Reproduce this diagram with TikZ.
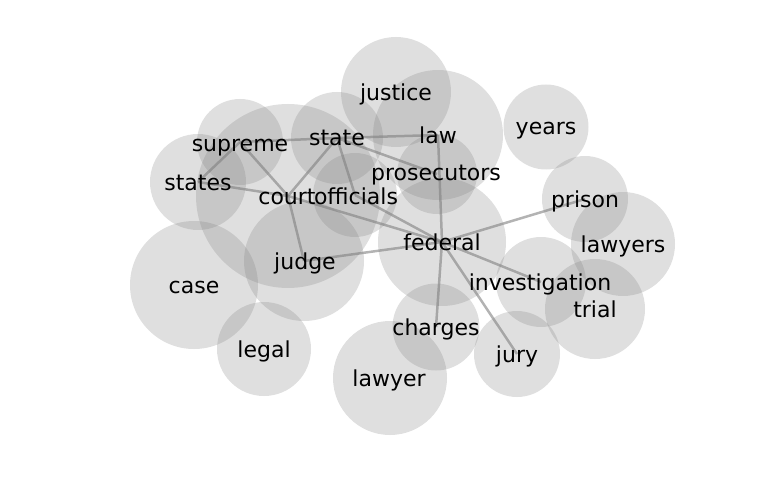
\documentclass[tikz,border=0pt]{standalone}
\usepackage{fontspec}
\setmainfont{DejaVu Sans}
\begin{document}
\begin{tikzpicture}[x=1pt,y=-1pt,
  bub/.style={circle,inner sep=0pt,draw=none,fill=black!50,fill opacity=0.25,minimum size=#1},
  edge/.style={draw=black!50,draw opacity=0.6,line width=2.5pt},
  word/.style={anchor=base,inner sep=0pt,font=\fontsize{22pt}{24pt}\selectfont,text=black}]
\useasboundingbox (0,0) rectangle (768,500);
% bubbles
\node[bub=110pt] (justice) at (396,92) {};
\node[bub=130pt] (law) at (438,135) {};
\node[bub=85pt] (years) at (546,127) {};
\node[bub=92pt] (state) at (337,138) {};
\node[bub=86pt] (supreme) at (240,142) {};
\node[bub=96pt] (states) at (198,182) {};
\node[bub=184pt] (court) at (288,196) {};
\node[bub=84pt] (officials) at (355,195) {};
\node[bub=80pt] (prosecutors) at (437,174) {};
\node[bub=128pt] (federal) at (442,242) {};
\node[bub=86pt] (prison) at (585,199) {};
\node[bub=104pt] (lawyers) at (623,244) {};
\node[bub=90pt] (investigation) at (541,282) {};
\node[bub=100pt] (trial) at (595,309) {};
\node[bub=120pt] (judge) at (304,261) {};
\node[bub=128pt] (case) at (194,285) {};
\node[bub=94pt] (legal) at (264,349) {};
\node[bub=87pt] (charges) at (436,327) {};
\node[bub=86pt] (jury) at (517,354) {};
\node[bub=114pt] (lawyer) at (390,378) {};
% edges
\draw[edge] (supreme.center) -- (state.center);
\draw[edge] (state.center) -- (law.center);
\draw[edge] (supreme.center) -- (states.center);
\draw[edge] (supreme.center) -- (court.center);
\draw[edge] (states.center) -- (court.center);
\draw[edge] (state.center) -- (court.center);
\draw[edge] (state.center) -- (officials.center);
\draw[edge] (state.center) -- (prosecutors.center);
\draw[edge] (court.center) -- (judge.center);
\draw[edge] (court.center) -- (federal.center);
\draw[edge] (officials.center) -- (federal.center);
\draw[edge] (law.center) -- (federal.center);
\draw[edge] (judge.center) -- (federal.center);
\draw[edge] (federal.center) -- (prison.center);
\draw[edge] (federal.center) -- (investigation.center);
\draw[edge] (federal.center) -- (charges.center);
\draw[edge] (federal.center) -- (jury.center);
% labels
\node[word] (t-justice) at (396,101) {justice};
\node[word] (t-law) at (438,143) {law};
\node[word] (t-years) at (546,135) {years};
\node[word] (t-state) at (337,146) {state};
\node[word] (t-supreme) at (240,151) {supreme};
\node[word] (t-states) at (198,190) {states};
\node[word] (t-court) at (287,204) {court};
\node[word] (t-officials) at (356,204) {officials};
\node[word] (t-prosecutors) at (436,180) {prosecutors};
\node[word] (t-federal) at (442,250) {federal};
\node[word] (t-prison) at (585,207) {prison};
\node[word] (t-lawyers) at (623,252) {lawyers};
\node[word] (t-investigation) at (540,290) {investigation};
\node[word] (t-trial) at (595,317) {trial};
\node[word] (t-judge) at (305,269) {judge};
\node[word] (t-case) at (194,293) {case};
\node[word] (t-legal) at (264,357) {legal};
\node[word] (t-charges) at (436,335) {charges};
\node[word] (t-jury) at (517,362) {jury};
\node[word] (t-lawyer) at (389,386) {lawyer};
\end{tikzpicture}
\end{document}
